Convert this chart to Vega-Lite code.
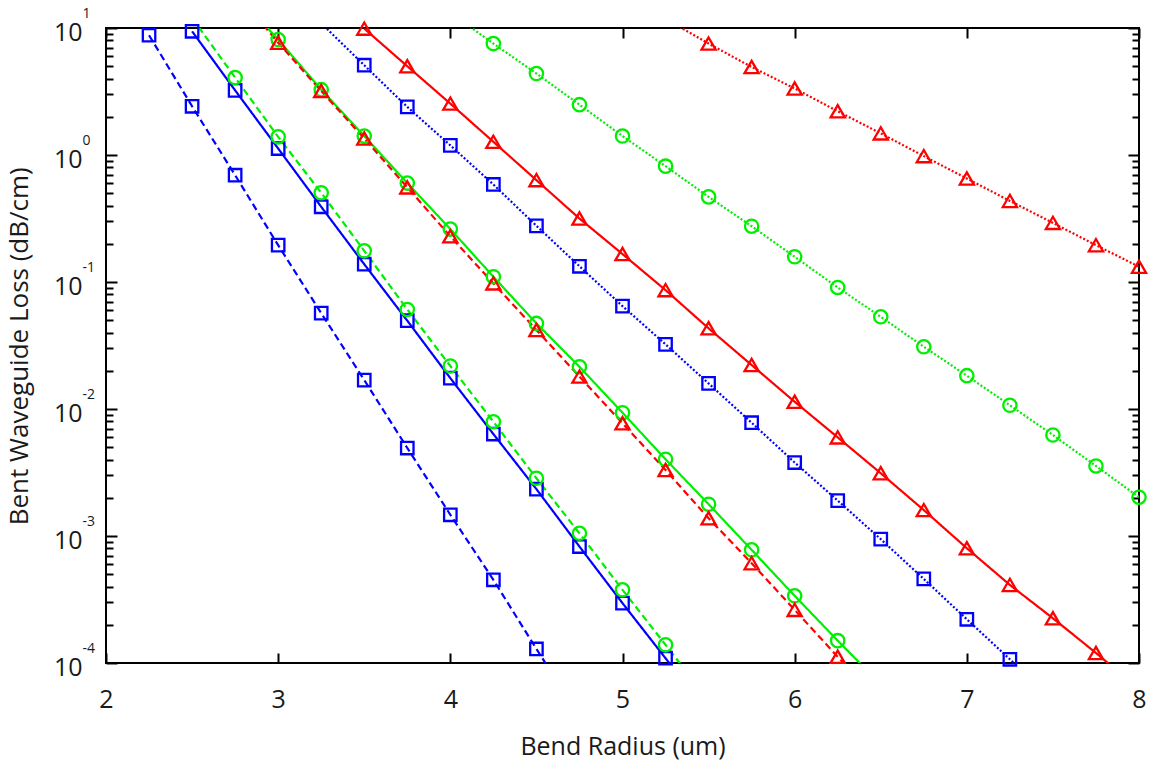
{
  "$schema": "https://vega.github.io/schema/vega-lite/v6.json",
  "width": 1033,
  "height": 635,
  "autosize": {"type": "none"},
  "padding": {"left": 106, "top": 28, "right": 12, "bottom": 102},
  "background": "white",
  "config": {
    "view": {"stroke": "#000000", "strokeWidth": 2},
    "axis": {"grid": false, "domain": false, "labelFont": "Open Sans", "titleFont": "Open Sans", "labelColor": "#1a1a1a", "titleColor": "#1a1a1a", "tickColor": "#000000", "tickWidth": 2, "titleFontWeight": "normal", "labelFlush": false, "labelOverlap": false}
  },
  "datasets": {
    "curves": [
      {"r": 2.25, "loss": 8.77, "design": "D1", "variant": "V1"},
      {"r": 2.5, "loss": 2.42, "design": "D1", "variant": "V1"},
      {"r": 2.75, "loss": 0.693, "design": "D1", "variant": "V1"},
      {"r": 3.0, "loss": 0.195, "design": "D1", "variant": "V1"},
      {"r": 3.25, "loss": 0.0569, "design": "D1", "variant": "V1"},
      {"r": 3.5, "loss": 0.0169, "design": "D1", "variant": "V1"},
      {"r": 3.75, "loss": 0.00493, "design": "D1", "variant": "V1"},
      {"r": 4.0, "loss": 0.00147, "design": "D1", "variant": "V1"},
      {"r": 4.25, "loss": 0.000452, "design": "D1", "variant": "V1"},
      {"r": 4.5, "loss": 0.000129, "design": "D1", "variant": "V1"},
      {"r": 4.75, "loss": 0.000038, "design": "D1", "variant": "V1"},

      {"r": 2.5, "loss": 9.42, "design": "D1", "variant": "V2"},
      {"r": 2.75, "loss": 3.23, "design": "D1", "variant": "V2"},
      {"r": 3.0, "loss": 1.125, "design": "D1", "variant": "V2"},
      {"r": 3.25, "loss": 0.391, "design": "D1", "variant": "V2"},
      {"r": 3.5, "loss": 0.138, "design": "D1", "variant": "V2"},
      {"r": 3.75, "loss": 0.0496, "design": "D1", "variant": "V2"},
      {"r": 4.0, "loss": 0.0175, "design": "D1", "variant": "V2"},
      {"r": 4.25, "loss": 0.00635, "design": "D1", "variant": "V2"},
      {"r": 4.5, "loss": 0.00234, "design": "D1", "variant": "V2"},
      {"r": 4.75, "loss": 0.000826, "design": "D1", "variant": "V2"},
      {"r": 5.0, "loss": 0.000296, "design": "D1", "variant": "V2"},
      {"r": 5.25, "loss": 0.000109, "design": "D1", "variant": "V2"},
      {"r": 5.5, "loss": 0.00004, "design": "D1", "variant": "V2"},

      {"r": 3.25, "loss": 10.9, "design": "D1", "variant": "V3"},
      {"r": 3.5, "loss": 5.09, "design": "D1", "variant": "V3"},
      {"r": 3.75, "loss": 2.39, "design": "D1", "variant": "V3"},
      {"r": 4.0, "loss": 1.19, "design": "D1", "variant": "V3"},
      {"r": 4.25, "loss": 0.586, "design": "D1", "variant": "V3"},
      {"r": 4.5, "loss": 0.277, "design": "D1", "variant": "V3"},
      {"r": 4.75, "loss": 0.133, "design": "D1", "variant": "V3"},
      {"r": 5.0, "loss": 0.0646, "design": "D1", "variant": "V3"},
      {"r": 5.25, "loss": 0.0323, "design": "D1", "variant": "V3"},
      {"r": 5.5, "loss": 0.0159, "design": "D1", "variant": "V3"},
      {"r": 5.75, "loss": 0.0078, "design": "D1", "variant": "V3"},
      {"r": 6.0, "loss": 0.00379, "design": "D1", "variant": "V3"},
      {"r": 6.25, "loss": 0.0019, "design": "D1", "variant": "V3"},
      {"r": 6.5, "loss": 0.000944, "design": "D1", "variant": "V3"},
      {"r": 6.75, "loss": 0.000459, "design": "D1", "variant": "V3"},
      {"r": 7.0, "loss": 0.000221, "design": "D1", "variant": "V3"},
      {"r": 7.25, "loss": 0.000107, "design": "D1", "variant": "V3"},
      {"r": 7.5, "loss": 0.000052, "design": "D1", "variant": "V3"},

      {"r": 2.5, "loss": 12.0, "design": "D2", "variant": "V1"},
      {"r": 2.75, "loss": 4.07, "design": "D2", "variant": "V1"},
      {"r": 3.0, "loss": 1.39, "design": "D2", "variant": "V1"},
      {"r": 3.25, "loss": 0.504, "design": "D2", "variant": "V1"},
      {"r": 3.5, "loss": 0.176, "design": "D2", "variant": "V1"},
      {"r": 3.75, "loss": 0.0608, "design": "D2", "variant": "V1"},
      {"r": 4.0, "loss": 0.0218, "design": "D2", "variant": "V1"},
      {"r": 4.25, "loss": 0.00794, "design": "D2", "variant": "V1"},
      {"r": 4.5, "loss": 0.00285, "design": "D2", "variant": "V1"},
      {"r": 4.75, "loss": 0.00105, "design": "D2", "variant": "V1"},
      {"r": 5.0, "loss": 0.000377, "design": "D2", "variant": "V1"},
      {"r": 5.25, "loss": 0.000139, "design": "D2", "variant": "V1"},
      {"r": 5.5, "loss": 0.000051, "design": "D2", "variant": "V1"},

      {"r": 2.75, "loss": 19.0, "design": "D2", "variant": "V2"},
      {"r": 3.0, "loss": 8.11, "design": "D2", "variant": "V2"},
      {"r": 3.25, "loss": 3.27, "design": "D2", "variant": "V2"},
      {"r": 3.5, "loss": 1.41, "design": "D2", "variant": "V2"},
      {"r": 3.75, "loss": 0.601, "design": "D2", "variant": "V2"},
      {"r": 4.0, "loss": 0.261, "design": "D2", "variant": "V2"},
      {"r": 4.25, "loss": 0.11, "design": "D2", "variant": "V2"},
      {"r": 4.5, "loss": 0.0472, "design": "D2", "variant": "V2"},
      {"r": 4.75, "loss": 0.0215, "design": "D2", "variant": "V2"},
      {"r": 5.0, "loss": 0.00935, "design": "D2", "variant": "V2"},
      {"r": 5.25, "loss": 0.00402, "design": "D2", "variant": "V2"},
      {"r": 5.5, "loss": 0.00178, "design": "D2", "variant": "V2"},
      {"r": 5.75, "loss": 0.000778, "design": "D2", "variant": "V2"},
      {"r": 6.0, "loss": 0.000338, "design": "D2", "variant": "V2"},
      {"r": 6.25, "loss": 0.00015, "design": "D2", "variant": "V2"},
      {"r": 6.5, "loss": 0.000068, "design": "D2", "variant": "V2"},

      {"r": 4.0, "loss": 13.2, "design": "D2", "variant": "V3"},
      {"r": 4.25, "loss": 7.54, "design": "D2", "variant": "V3"},
      {"r": 4.5, "loss": 4.38, "design": "D2", "variant": "V3"},
      {"r": 4.75, "loss": 2.49, "design": "D2", "variant": "V3"},
      {"r": 5.0, "loss": 1.41, "design": "D2", "variant": "V3"},
      {"r": 5.25, "loss": 0.817, "design": "D2", "variant": "V3"},
      {"r": 5.5, "loss": 0.468, "design": "D2", "variant": "V3"},
      {"r": 5.75, "loss": 0.275, "design": "D2", "variant": "V3"},
      {"r": 6.0, "loss": 0.158, "design": "D2", "variant": "V3"},
      {"r": 6.25, "loss": 0.0906, "design": "D2", "variant": "V3"},
      {"r": 6.5, "loss": 0.0532, "design": "D2", "variant": "V3"},
      {"r": 6.75, "loss": 0.0309, "design": "D2", "variant": "V3"},
      {"r": 7.0, "loss": 0.0183, "design": "D2", "variant": "V3"},
      {"r": 7.25, "loss": 0.0107, "design": "D2", "variant": "V3"},
      {"r": 7.5, "loss": 0.00624, "design": "D2", "variant": "V3"},
      {"r": 7.75, "loss": 0.00356, "design": "D2", "variant": "V3"},
      {"r": 8.0, "loss": 0.00202, "design": "D2", "variant": "V3"},

      {"r": 2.75, "loss": 19.5, "design": "D3", "variant": "V1"},
      {"r": 3.0, "loss": 7.66, "design": "D3", "variant": "V1"},
      {"r": 3.25, "loss": 3.19, "design": "D3", "variant": "V1"},
      {"r": 3.5, "loss": 1.35, "design": "D3", "variant": "V1"},
      {"r": 3.75, "loss": 0.556, "design": "D3", "variant": "V1"},
      {"r": 4.0, "loss": 0.229, "design": "D3", "variant": "V1"},
      {"r": 4.25, "loss": 0.0975, "design": "D3", "variant": "V1"},
      {"r": 4.5, "loss": 0.0419, "design": "D3", "variant": "V1"},
      {"r": 4.75, "loss": 0.018, "design": "D3", "variant": "V1"},
      {"r": 5.0, "loss": 0.00773, "design": "D3", "variant": "V1"},
      {"r": 5.25, "loss": 0.00331, "design": "D3", "variant": "V1"},
      {"r": 5.5, "loss": 0.00138, "design": "D3", "variant": "V1"},
      {"r": 5.75, "loss": 0.000611, "design": "D3", "variant": "V1"},
      {"r": 6.0, "loss": 0.000262, "design": "D3", "variant": "V1"},
      {"r": 6.25, "loss": 0.000112, "design": "D3", "variant": "V1"},
      {"r": 6.5, "loss": 0.000048, "design": "D3", "variant": "V1"},

      {"r": 3.5, "loss": 9.89, "design": "D3", "variant": "V2"},
      {"r": 3.75, "loss": 5.0, "design": "D3", "variant": "V2"},
      {"r": 4.0, "loss": 2.54, "design": "D3", "variant": "V2"},
      {"r": 4.25, "loss": 1.27, "design": "D3", "variant": "V2"},
      {"r": 4.5, "loss": 0.634, "design": "D3", "variant": "V2"},
      {"r": 4.75, "loss": 0.316, "design": "D3", "variant": "V2"},
      {"r": 5.0, "loss": 0.166, "design": "D3", "variant": "V2"},
      {"r": 5.25, "loss": 0.0863, "design": "D3", "variant": "V2"},
      {"r": 5.5, "loss": 0.0432, "design": "D3", "variant": "V2"},
      {"r": 5.75, "loss": 0.0222, "design": "D3", "variant": "V2"},
      {"r": 6.0, "loss": 0.0114, "design": "D3", "variant": "V2"},
      {"r": 6.25, "loss": 0.00598, "design": "D3", "variant": "V2"},
      {"r": 6.5, "loss": 0.00312, "design": "D3", "variant": "V2"},
      {"r": 6.75, "loss": 0.0016, "design": "D3", "variant": "V2"},
      {"r": 7.0, "loss": 0.000801, "design": "D3", "variant": "V2"},
      {"r": 7.25, "loss": 0.000412, "design": "D3", "variant": "V2"},
      {"r": 7.5, "loss": 0.000225, "design": "D3", "variant": "V2"},
      {"r": 7.75, "loss": 0.00012, "design": "D3", "variant": "V2"},
      {"r": 8.0, "loss": 0.000062, "design": "D3", "variant": "V2"},

      {"r": 5.25, "loss": 11.8, "design": "D3", "variant": "V3"},
      {"r": 5.5, "loss": 7.54, "design": "D3", "variant": "V3"},
      {"r": 5.75, "loss": 4.93, "design": "D3", "variant": "V3"},
      {"r": 6.0, "loss": 3.34, "design": "D3", "variant": "V3"},
      {"r": 6.25, "loss": 2.21, "design": "D3", "variant": "V3"},
      {"r": 6.5, "loss": 1.48, "design": "D3", "variant": "V3"},
      {"r": 6.75, "loss": 0.98, "design": "D3", "variant": "V3"},
      {"r": 7.0, "loss": 0.653, "design": "D3", "variant": "V3"},
      {"r": 7.25, "loss": 0.435, "design": "D3", "variant": "V3"},
      {"r": 7.5, "loss": 0.292, "design": "D3", "variant": "V3"},
      {"r": 7.75, "loss": 0.195, "design": "D3", "variant": "V3"},
      {"r": 8.0, "loss": 0.132, "design": "D3", "variant": "V3"}
    ]
  },
  "data": {"name": "curves"},
  "resolve": {"axis": {"x": "independent", "y": "independent"}},
  "layer": [
    {
      "mark": {"type": "line", "clip": true},
      "encoding": {
        "x": {"field": "r", "type": "quantitative",
          "scale": {"domain": [2, 8], "nice": false, "zero": false},
          "axis": {"orient": "bottom", "values": [2, 3, 4, 5, 6, 7, 8], "format": "d", "ticks": false,
            "labelFontSize": 25, "labelPadding": 44, "labelBaseline": "alphabetic",
            "title": "Bend Radius (um)", "titleFontSize": 25, "titleX": 516.5, "titleY": 91,
            "titleAlign": "center", "titleBaseline": "alphabetic", "titleAnchor": null}},
        "y": {"field": "loss", "type": "quantitative",
          "scale": {"type": "log", "domain": [0.0001, 10], "nice": false},
          "axis": {"orient": "left", "values": [0.0001, 0.001, 0.01, 0.1, 1, 10], "labelExpr": "'10'", "ticks": false,
            "labelFontSize": 25, "labelPadding": 24, "labelBaseline": "alphabetic", "labelOffset": 12,
            "title": "Bent Waveguide Loss (dB/cm)", "titleFontSize": 26, "titleX": -79, "titleY": 317.8,
            "titleAngle": -90, "titleAlign": "center", "titleBaseline": "alphabetic"}},
        "color": {"field": "design", "type": "nominal", "legend": null,
          "scale": {"domain": ["D1", "D2", "D3"], "range": ["#0000ff", "#00ee00", "#ff0000"]}},
        "strokeDash": {"field": "variant", "type": "nominal", "legend": null,
          "scale": {"domain": ["V1", "V2", "V3"], "range": [[7, 4], [1, 0], [2, 2]]}},
        "strokeWidth": {"field": "variant", "type": "ordinal", "legend": null,
          "scale": {"domain": ["V1", "V2", "V3"], "range": [2.2, 2.2, 1.6]}},
        "opacity": {"field": "variant", "type": "ordinal", "legend": null,
          "scale": {"domain": ["V1", "V2", "V3"], "range": [1, 1, 0.7]}}
      }
    },
    {
      "transform": [{"filter": {"field": "loss", "range": [0.0001, 10]}}],
      "mark": {"type": "point", "filled": false, "strokeWidth": 2.3, "opacity": 1},
      "encoding": {
        "x": {"field": "r", "type": "quantitative",
          "scale": {"domain": [2, 8], "nice": false, "zero": false},
          "axis": {"orient": "top", "values": [2, 3, 4, 5, 6, 7, 8], "labels": false, "ticks": true, "tickSize": -10, "title": null}},
        "y": {"field": "loss", "type": "quantitative",
          "scale": {"type": "log", "domain": [0.0001, 10], "nice": false},
          "axis": {"orient": "right", "labels": false, "ticks": true, "title": null,
            "values": [0.0001, 0.0002, 0.0003, 0.0004, 0.0005, 0.0006, 0.0007, 0.0008, 0.0009, 0.001, 0.002, 0.003, 0.004, 0.005, 0.006, 0.007, 0.008, 0.009, 0.01, 0.02, 0.03, 0.04, 0.05, 0.06, 0.07, 0.08, 0.09, 0.1, 0.2, 0.3, 0.4, 0.5, 0.6, 0.7, 0.8, 0.9, 1, 2, 3, 4, 5, 6, 7, 8, 9, 10],
            "tickSize": {"condition": {"test": "abs(log(datum.value)/LN10 - round(log(datum.value)/LN10)) < 0.01", "value": -11}, "value": -7}}},
        "color": {"field": "design", "type": "nominal", "legend": null,
          "scale": {"domain": ["D1", "D2", "D3"], "range": ["#0000ff", "#00ee00", "#ff0000"]}},
        "shape": {"field": "design", "type": "nominal", "legend": null,
          "scale": {"domain": ["D1", "D2", "D3"], "range": ["square", "circle", "triangle-up"]}},
        "size": {"field": "design", "type": "ordinal", "legend": null,
          "scale": {"domain": ["D1", "D2", "D3"], "range": [155, 200, 290]}}
      }
    },
    {
      "mark": {"type": "point", "opacity": 0},
      "encoding": {
        "x": {"field": "r", "type": "quantitative",
          "scale": {"domain": [2, 8], "nice": false, "zero": false},
          "axis": {"orient": "bottom", "values": [2, 3, 4, 5, 6, 7, 8], "labels": false, "ticks": true, "tickSize": -10, "title": null}},
        "y": {"field": "loss", "type": "quantitative",
          "scale": {"type": "log", "domain": [0.0001, 10], "nice": false},
          "axis": {"orient": "left", "labels": false, "ticks": true, "title": null,
            "values": [0.0001, 0.0002, 0.0003, 0.0004, 0.0005, 0.0006, 0.0007, 0.0008, 0.0009, 0.001, 0.002, 0.003, 0.004, 0.005, 0.006, 0.007, 0.008, 0.009, 0.01, 0.02, 0.03, 0.04, 0.05, 0.06, 0.07, 0.08, 0.09, 0.1, 0.2, 0.3, 0.4, 0.5, 0.6, 0.7, 0.8, 0.9, 1, 2, 3, 4, 5, 6, 7, 8, 9, 10],
            "tickSize": {"condition": {"test": "abs(log(datum.value)/LN10 - round(log(datum.value)/LN10)) < 0.01", "value": -11}, "value": -7}}}
      }
    },
    {
      "mark": {"type": "point", "opacity": 0},
      "encoding": {
        "x": {"field": "r", "type": "quantitative",
          "scale": {"domain": [2, 8], "nice": false, "zero": false}, "axis": null},
        "y": {"field": "loss", "type": "quantitative",
          "scale": {"type": "log", "domain": [0.0001, 10], "nice": false},
          "axis": {"orient": "left", "values": [0.0001, 0.001, 0.01, 0.1, 1, 10], "ticks": false, "title": null,
            "labelExpr": "'' + round(log(datum.value)/LN10)",
            "labelFontSize": 14, "labelAlign": "left", "labelPadding": 24, "labelBaseline": "alphabetic", "labelOffset": -11}}
      }
    }
  ]
}
